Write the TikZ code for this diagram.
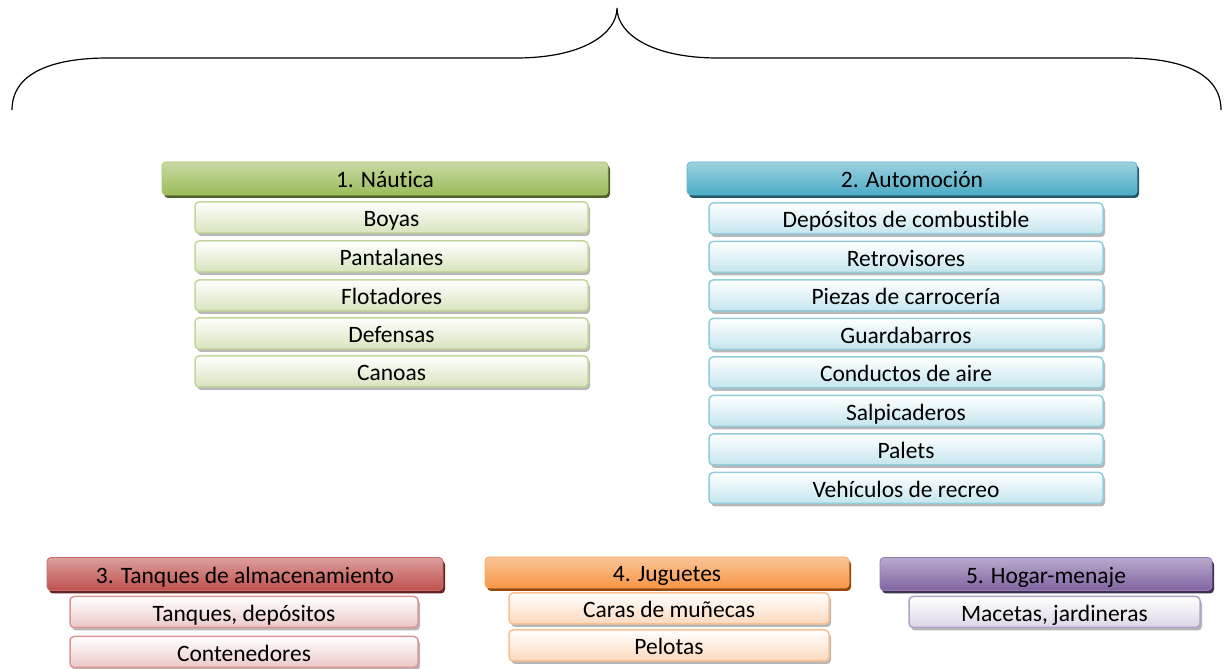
\documentclass[tikz,border=0pt]{standalone}
\usepackage{fontspec}
\setmainfont{Carlito}[Ligatures=NoCommon]
\usetikzlibrary{positioning,shadows}
\definecolor{grn}{HTML}{9BBB59}
\definecolor{grndark}{HTML}{4F6228}
\definecolor{grnline}{HTML}{C3D69B}
\definecolor{grnlight}{HTML}{D7E4BD}
\definecolor{aqua}{HTML}{4BACC6}
\definecolor{aquadark}{HTML}{215968}
\definecolor{aqualine}{HTML}{92CDDC}
\definecolor{aqualight}{HTML}{C4E5EE}
\definecolor{rd}{HTML}{C0504D}
\definecolor{rddark}{HTML}{632523}
\definecolor{rdline}{HTML}{D99694}
\definecolor{rdlight}{HTML}{EBC8C7}
\definecolor{orng}{HTML}{F79646}
\definecolor{orngdark}{HTML}{974806}
\definecolor{orngline}{HTML}{FAC090}
\definecolor{ornglight}{HTML}{FCD8BC}
\definecolor{purp}{HTML}{8064A2}
\definecolor{purpdark}{HTML}{3F3151}
\definecolor{purpline}{HTML}{B3A2C7}
\definecolor{purplight}{HTML}{DDD5E6}
\tikzstyle{head} = [rectangle, rounded corners=4pt, minimum height=33pt, inner sep=0pt, outer sep=0pt, text centered, text height=19pt, text depth=0pt, line width=0.8pt, font=\fontsize{23.5}{26}\selectfont]
\tikzstyle{item} = [rectangle, rounded corners=4pt, minimum height=31pt, inner sep=0pt, outer sep=0pt, text centered, text height=19pt, text depth=0pt, line width=1.5pt, font=\fontsize{23.5}{26}\selectfont, drop shadow={shadow xshift=2pt, shadow yshift=-3pt, fill=black!40, opacity=.7}]
\tikzstyle{greenhead} = [head, draw=grn!85!white, top color=grn!55!white, bottom color=grn, drop shadow={shadow xshift=2pt, shadow yshift=-3pt, fill=grndark, opacity=1}]
\tikzstyle{greenitem} = [item, draw=grnline, top color=white, bottom color=grnlight]
\tikzstyle{aquahead} = [head, draw=aqua!85!white, top color=aqua!55!white, bottom color=aqua, drop shadow={shadow xshift=2pt, shadow yshift=-3pt, fill=aquadark, opacity=1}]
\tikzstyle{aquaitem} = [item, draw=aqualine, top color=white, bottom color=aqualight]
\tikzstyle{redhead} = [head, draw=rd!85!white, top color=rd!55!white, bottom color=rd, drop shadow={shadow xshift=2pt, shadow yshift=-3pt, fill=rddark, opacity=1}]
\tikzstyle{reditem} = [item, draw=rdline, top color=white, bottom color=rdlight]
\tikzstyle{orangehead} = [head, draw=orng!85!white, top color=orng!55!white, bottom color=orng, drop shadow={shadow xshift=2pt, shadow yshift=-3pt, fill=orngdark, opacity=1}]
\tikzstyle{orangeitem} = [item, draw=orngline, top color=white, bottom color=ornglight]
\tikzstyle{purplehead} = [head, draw=purp!85!white, top color=purp!55!white, bottom color=purp, drop shadow={shadow xshift=2pt, shadow yshift=-3pt, fill=purpdark, opacity=1}]
\tikzstyle{purpleitem} = [item, draw=purpline, top color=white, bottom color=purplight]
\tikzstyle{brace} = [line width=1.2pt, black]

\begin{document}
\begin{tikzpicture}[x=1pt, y=1pt]
\useasboundingbox (0,0) rectangle (1224,669);

\draw [brace] (12,559) .. controls (12,596) and (52,611) .. (108,611) -- (516,611)
  .. controls (584,611) and (617,636) .. (617,661)
  .. controls (617,636) and (650,611) .. (718,611) -- (1125,611)
  .. controls (1181,611) and (1221,596) .. (1221,559);

\node (naut) [greenhead, minimum width=446pt] at (385,490.5) {1. Náutica};
\node (boyas) [greenitem, minimum width=393pt, below=7pt of naut, xshift=6.5pt] {Boyas};
\node (pantal) [greenitem, minimum width=393pt, below=8pt of boyas] {Pantalanes};
\node (flotad) [greenitem, minimum width=393pt, below=8pt of pantal] {Flotadores};
\node (defens) [greenitem, minimum width=393pt, below=7pt of flotad] {Defensas};
\node (canoas) [greenitem, minimum width=393pt, below=7pt of defens] {Canoas};

\node (auto) [aquahead, minimum width=450pt] at (912,490.5) {2. Automoción};
\node (depos) [aquaitem, minimum width=394pt, below=8pt of auto, xshift=-6pt] {Depósitos de combustible};
\node (retro) [aquaitem, minimum width=394pt, below=7.5pt of depos] {Retrovisores};
\node (piezas) [aquaitem, minimum width=394pt, below=7.5pt of retro] {Piezas de carrocería};
\node (guarda) [aquaitem, minimum width=394pt, below=7.5pt of piezas] {Guardabarros};
\node (conduc) [aquaitem, minimum width=394pt, below=7.5pt of guarda] {Conductos de aire};
\node (salpic) [aquaitem, minimum width=394pt, below=7.5pt of conduc] {Salpicaderos};
\node (palets) [aquaitem, minimum width=394pt, below=7.5pt of salpic] {Palets};
\node (vehic) [aquaitem, minimum width=394pt, below=7.5pt of palets] {Vehículos de recreo};

\node (tanq) [redhead, minimum width=396pt] at (245,95) {3. Tanques de almacenamiento};
\node (tdepos) [reditem, minimum width=348pt, below=6pt of tanq, xshift=-1pt] {Tanques, depósitos};
\node (conten) [reditem, minimum width=348pt, below=9pt of tdepos] {Contenedores};

\node (jugu) [orangehead, minimum width=364pt, minimum height=31pt] at (667,96.5) {4. Juguetes};
\node (caras) [orangeitem, minimum width=320pt, below=5pt of jugu, xshift=2pt] {Caras de muñecas};
\node (pelot) [orangeitem, minimum width=320pt, below=6pt of caras] {Pelotas};

\node (hogar) [purplehead, minimum width=332pt] at (1046,95) {5. Hogar-menaje};
\node (macet) [purpleitem, minimum width=291pt, below=6pt of hogar, xshift=8.5pt] {Macetas, jardineras};

\end{tikzpicture}
\end{document}
